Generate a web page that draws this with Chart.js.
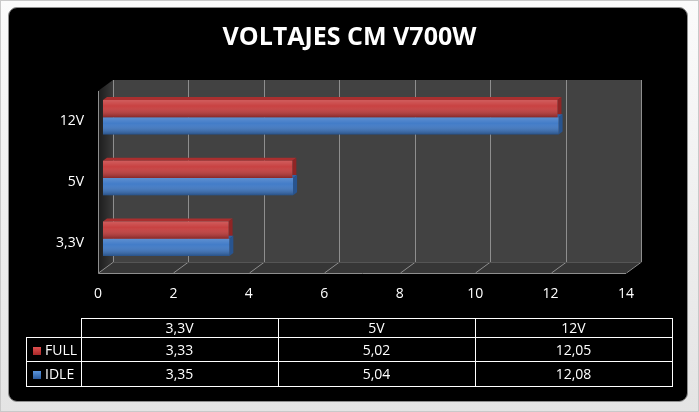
<!DOCTYPE html>
<html lang="es">
<head>
  <meta charset="UTF-8">
  <title>Voltajes CM V700W</title>
  <script src="https://cdn.jsdelivr.net/npm/chart.js"></script>
  <style>
    body {
      margin: 0;
      background: #fff;
      font-family: 'Open Sans', sans-serif;
    }
    .frame {
      position: relative;
      width: 697px;
      height: 410px;
      border: 1px solid #c9c9c9;
      background: linear-gradient(#fbfbfb, #e4e4e4);
    }
    .panel {
      position: absolute;
      left: 7px;
      top: 6px;
      width: 678px;
      height: 393px;
      background: #000;
      border: 1px solid #8f8f8f;
      border-radius: 9px;
    }
    canvas {
      position: absolute;
      left: -1px;
      top: -1px;
    }
    .datatable {
      position: absolute;
      left: 25px;
      top: 317px;
      border-collapse: collapse;
      color: #fff;
      font-size: 14px;
      line-height: 1;
    }
    .datatable td {
      border: 1px solid #fff;
      text-align: center;
      padding: 0;
    }
    .datatable td.corner {
      border-top: none;
      border-left: none;
    }
    .datatable td.serie {
      text-align: left;
      padding-left: 6px;
    }
    .mark {
      display: inline-block;
      width: 8px;
      height: 8px;
      margin-right: 4px;
      vertical-align: 0;
    }
  </style>
</head>
<body>
  <div class="frame">
    <div class="panel"></div>
    <canvas id="chart" width="699" height="412"></canvas>
    <table class="datatable" id="tabla"></table>
  </div>

  <script>
    // datos
    const categories = ['3,3V', '5V', '12V'];
    const fullValues = [3.33, 5.02, 12.05];
    const idleValues = [3.35, 5.04, 12.08];
    const seriesNames = ['FULL', 'IDLE'];
    const axisMin = 0;
    const axisMax = 14;
    const axisStep = 2;

    const colors = {
      FULL: { front: '#c63a3a', top: '#a92f2f', cap: '#8f2525', mark: 'linear-gradient(#e05050, #a82828)' },
      IDLE: { front: '#3b77c6', top: '#2f62a6', cap: '#28548f', mark: 'linear-gradient(#5a95dd, #2a5a9e)' }
    };

    // profundidad 3D de paredes y barras
    const DX = 15, DY = 11;
    const BDX = 5, BDY = 4;
    const CAPX = 4, CAPY = 3;

    function poly(ctx, pts, fill) {
      ctx.beginPath();
      ctx.moveTo(pts[0][0], pts[0][1]);
      for (let i = 1; i < pts.length; i++) ctx.lineTo(pts[i][0], pts[i][1]);
      ctx.closePath();
      ctx.fillStyle = fill;
      ctx.fill();
    }

    const walls3d = {
      id: 'walls3d',
      beforeDatasetsDraw(chart) {
        const ctx = chart.ctx;
        const { top, bottom } = chart.chartArea;
        const x = chart.scales.x;
        const x0 = x.getPixelForValue(axisMin);
        const x1 = x.getPixelForValue(axisMax);

        ctx.save();
        // pared del fondo
        ctx.fillStyle = '#424242';
        ctx.fillRect(x0 + DX, top - DY, x1 - x0, bottom - top);
        // pared izquierda
        const g = ctx.createLinearGradient(x0, 0, x0 + DX, 0);
        g.addColorStop(0, '#1c1c1c');
        g.addColorStop(1, '#3a3a3a');
        poly(ctx, [[x0, top], [x0 + DX, top - DY], [x0 + DX, bottom - DY], [x0, bottom]], g);
        // suelo
        poly(ctx, [[x0, bottom], [x0 + DX, bottom - DY], [x1 + DX, bottom - DY], [x1, bottom]], '#363636');

        // lineas de division
        ctx.strokeStyle = '#8e8e8e';
        ctx.lineWidth = 1;
        x.ticks.forEach(t => {
          const px = Math.round(x.getPixelForValue(t.value)) + 0.5;
          ctx.beginPath();
          ctx.moveTo(px + DX, top - DY);
          ctx.lineTo(px + DX, bottom - DY);
          ctx.lineTo(px, bottom);
          ctx.stroke();
        });
        // bordes frontales
        const fx = Math.round(x0) + 0.5;
        const fy = Math.round(bottom) + 0.5;
        ctx.beginPath();
        ctx.moveTo(fx, top);
        ctx.lineTo(fx, fy);
        ctx.lineTo(x1, fy);
        ctx.stroke();
        ctx.strokeStyle = '#555';
        ctx.beginPath();
        ctx.moveTo(x0 + DX, Math.round(bottom - DY) + 0.5);
        ctx.lineTo(x1 + DX, Math.round(bottom - DY) + 0.5);
        ctx.stroke();
        ctx.restore();

        // caras superiores y extremos de las barras
        ctx.save();
        ctx.translate(BDX, -BDY);
        chart.data.datasets.forEach((ds, i) => {
          const c = colors[ds.label];
          chart.getDatasetMeta(i).data.forEach(bar => {
            const p = bar.getProps(['x', 'y', 'base', 'height'], true);
            const t = p.y - p.height / 2;
            const b = p.y + p.height / 2;
            poly(ctx, [[p.base, t], [p.base + CAPX, t - CAPY], [p.x + CAPX, t - CAPY], [p.x, t]], c.top);
            poly(ctx, [[p.x, t], [p.x + CAPX, t - CAPY], [p.x + CAPX, b - CAPY], [p.x, b]], c.cap);
          });
        });
        // se queda trasladado para que Chart.js dibuje las caras frontales
      },
      afterDatasetsDraw(chart) {
        const ctx = chart.ctx;
        chart.data.datasets.forEach((ds, i) => {
          chart.getDatasetMeta(i).data.forEach(bar => {
            const p = bar.getProps(['x', 'y', 'base', 'height'], true);
            const t = p.y - p.height / 2;
            const g = ctx.createLinearGradient(0, t, 0, t + p.height);
            g.addColorStop(0, 'rgba(255,255,255,0.18)');
            g.addColorStop(0.35, 'rgba(255,255,255,0.04)');
            g.addColorStop(1, 'rgba(0,0,0,0.32)');
            ctx.fillStyle = g;
            ctx.fillRect(p.base, t, p.x - p.base, p.height);
          });
        });
        ctx.restore();
      }
    };

    const tickFont = { family: 'Open Sans', size: 14 };

    new Chart(document.getElementById('chart'), {
      type: 'bar',
      data: {
        labels: categories.slice().reverse(),
        datasets: [
          { label: seriesNames[0], data: fullValues.slice().reverse(), backgroundColor: colors.FULL.front },
          { label: seriesNames[1], data: idleValues.slice().reverse(), backgroundColor: colors.IDLE.front }
        ]
      },
      options: {
        indexAxis: 'y',
        responsive: false,
        animation: false,
        datasets: {
          bar: { categoryPercentage: 0.57, barPercentage: 1, clip: false }
        },
        layout: { padding: { left: 0, right: 0, top: 0, bottom: 109 } },
        plugins: {
          legend: { display: false },
          tooltip: { enabled: false },
          title: {
            display: true,
            text: 'VOLTAJES CM V700W',
            color: '#fff',
            font: { family: 'Open Sans', size: 25, weight: 'bold' },
            padding: { top: 23, bottom: 38 }
          }
        },
        scales: {
          x: {
            min: axisMin,
            max: axisMax,
            ticks: { stepSize: axisStep, color: '#fff', font: tickFont, padding: 13 },
            grid: { display: false, drawTicks: false },
            border: { display: false },
            afterFit(s) { s.height = 30; }
          },
          y: {
            ticks: { color: '#fff', font: tickFont, padding: 14 },
            grid: { display: false, drawTicks: false },
            border: { display: false },
            afterFit(s) { s.width = 98; }
          },
          // eje vacio a la derecha para reservar el margen sin descentrar el titulo
          margen: {
            type: 'linear',
            position: 'right',
            ticks: { display: false },
            grid: { display: false, drawTicks: false },
            border: { display: false },
            afterFit(s) { s.width = 73; }
          }
        }
      },
      plugins: [walls3d]
    });

    // tabla de datos
    const fmt = v => v.toFixed(2).replace('.', ',');
    const tabla = document.getElementById('tabla');
    let html = '<tr style="height:19px"><td class="corner" style="width:54px"></td>';
    categories.forEach(c => { html += '<td style="width:196px">' + c + '</td>'; });
    html += '</tr>';
    [fullValues, idleValues].forEach((vals, i) => {
      const name = seriesNames[i];
      html += '<tr style="height:' + (i === 0 ? 24 : 25) + 'px"><td class="serie"><span class="mark" style="background:' +
        colors[name].mark + '"></span>' + name + '</td>';
      vals.forEach(v => { html += '<td>' + fmt(v) + '</td>'; });
      html += '</tr>';
    });
    tabla.innerHTML = html;
  </script>
</body>
</html>
